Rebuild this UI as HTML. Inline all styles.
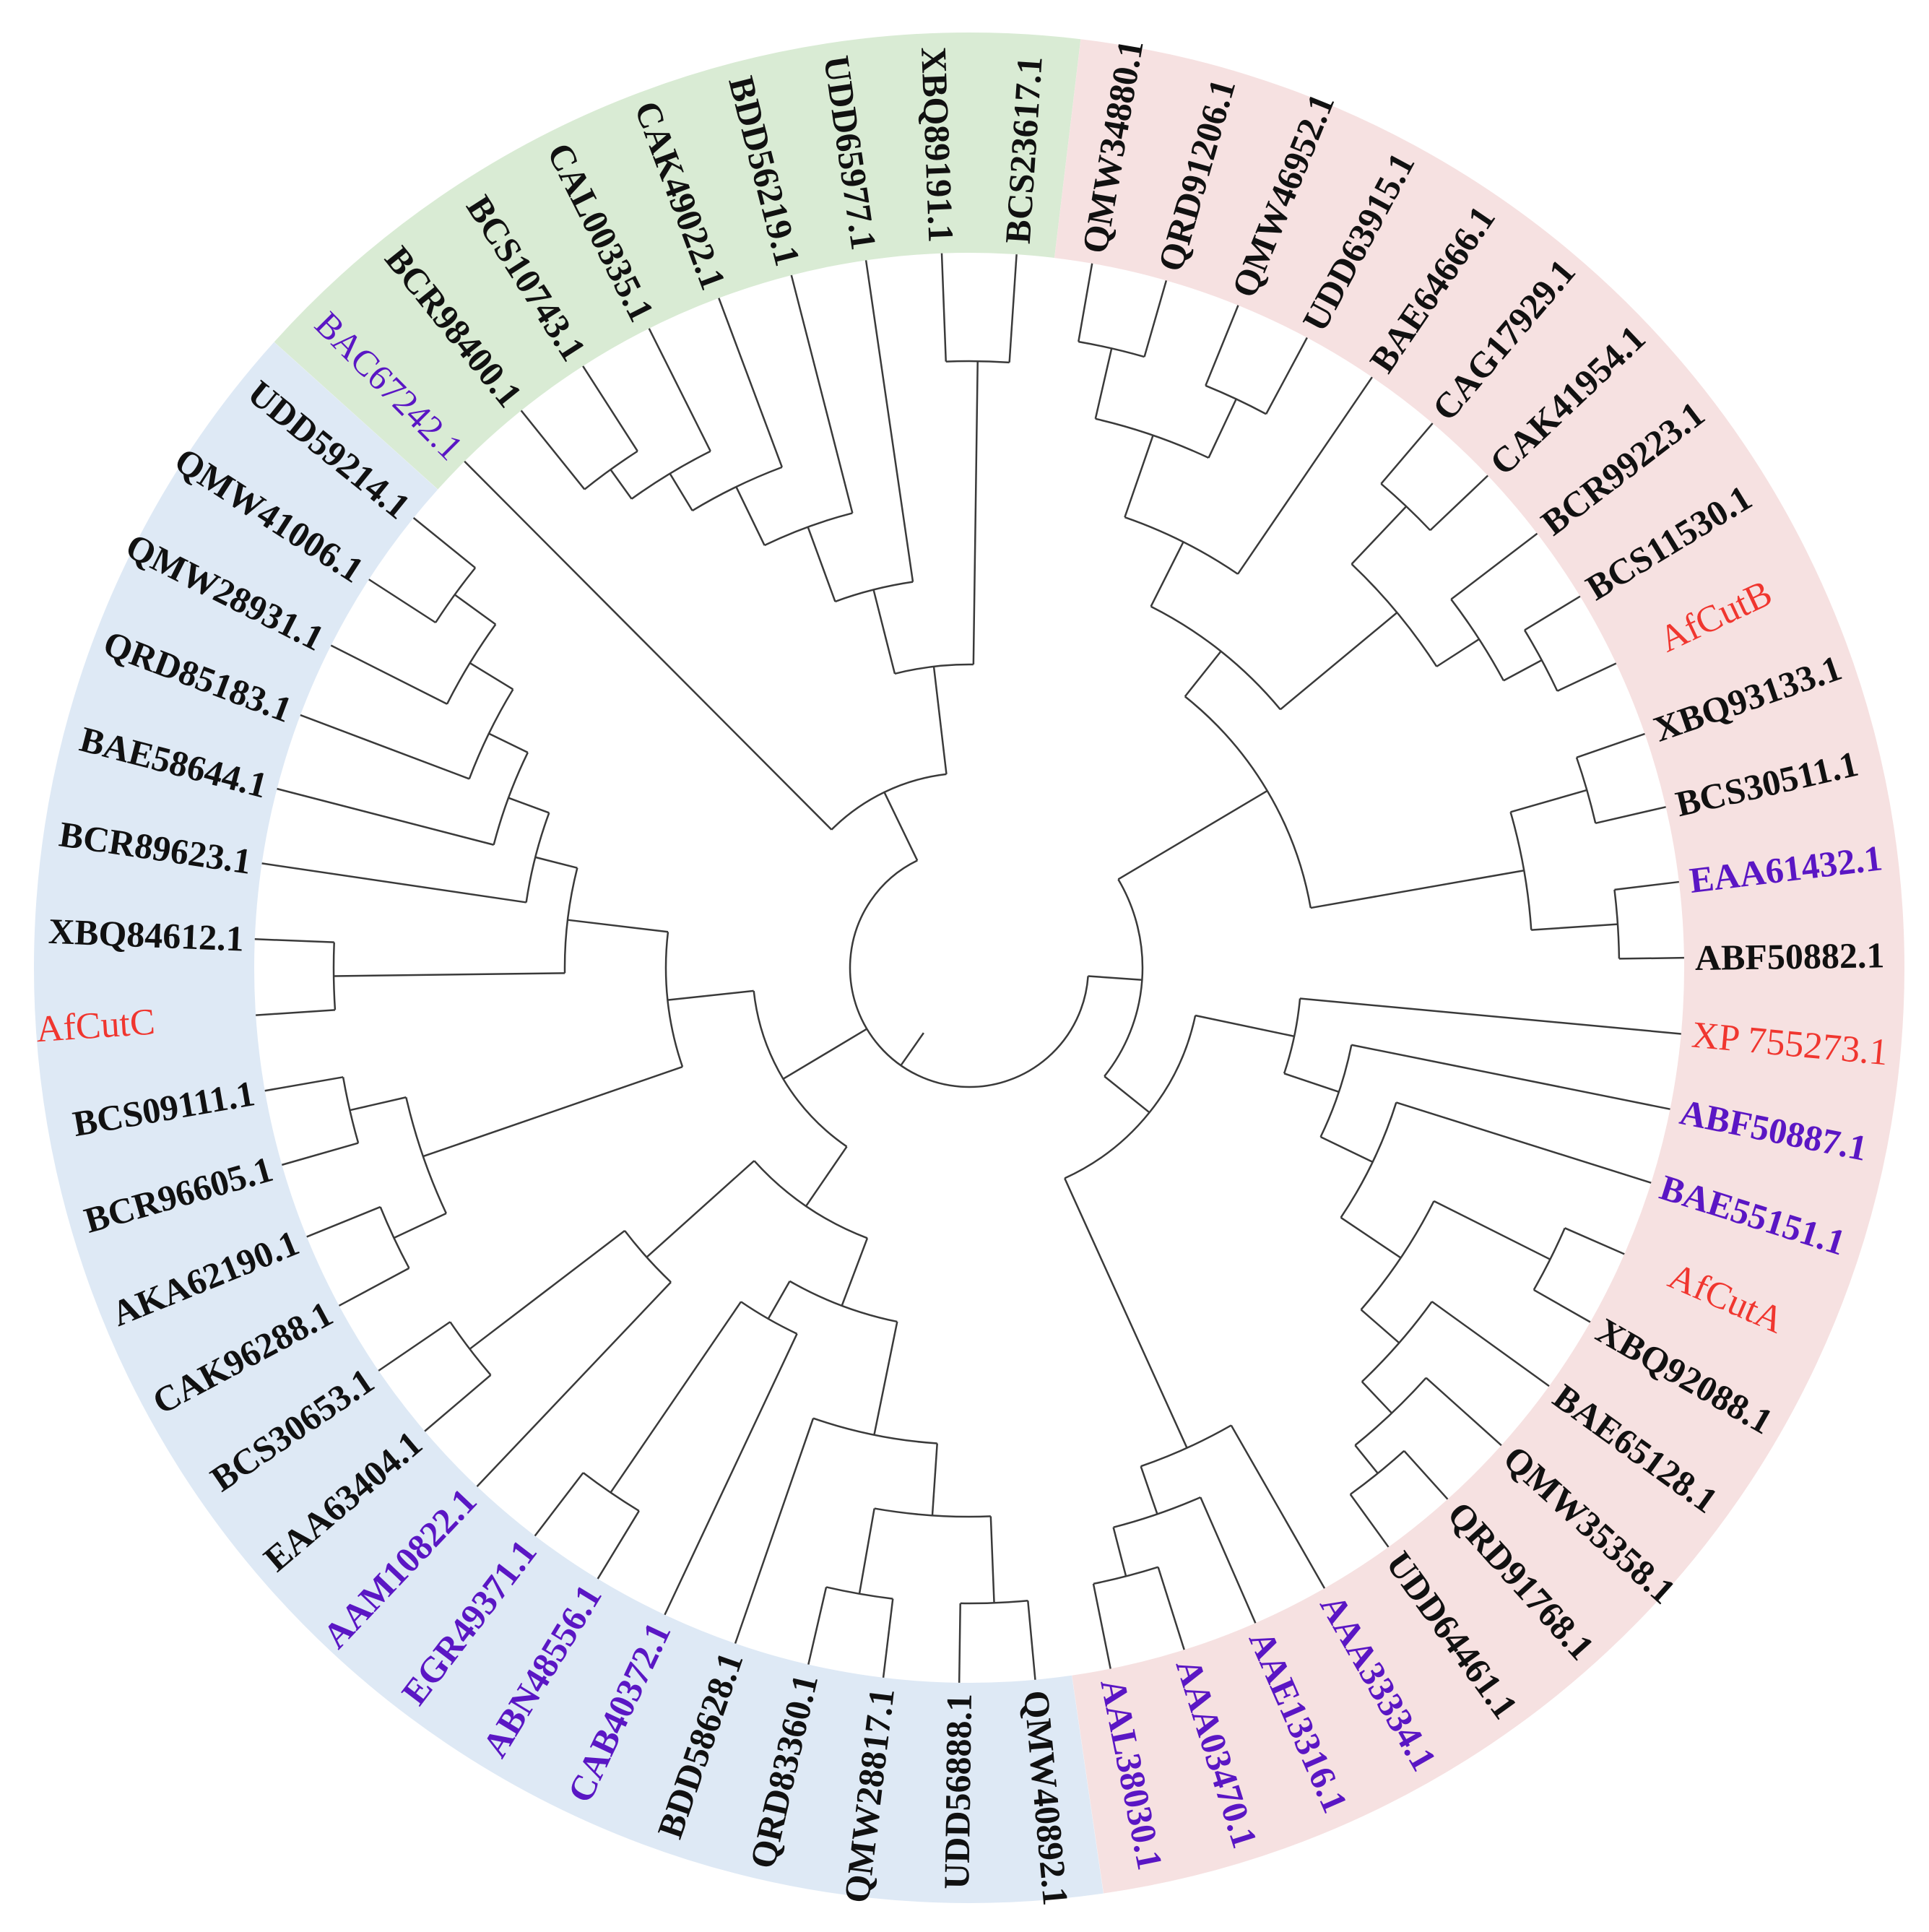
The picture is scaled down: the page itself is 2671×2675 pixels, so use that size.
<!DOCTYPE html>
<html><head><meta charset="utf-8"><style>
html,body{margin:0;padding:0;background:#fff;width:2671px;height:2675px;overflow:hidden;position:relative;}
svg{display:block;position:absolute;left:0;top:0;}
.t{font-family:"Liberation Serif",serif;font-size:50px;font-weight:bold;fill:#111;dominant-baseline:central;}
.r{fill:#f0362f;font-weight:normal;font-size:52px;}
.p{fill:#5a16c4;}
.br line,.br circle{stroke:#3a3a3a;stroke-width:2.5;fill:none;}
</style></head><body><svg width="2671" height="2675" viewBox="0 0 2671 2675" xmlns="http://www.w3.org/2000/svg">
<g transform="translate(1342 1340)">
<circle r="1142.5" fill="none" stroke="#d9ebd4" stroke-width="305" pathLength="360" stroke-dasharray="54.85 400" transform="rotate(222)"/>
<circle r="1142.5" fill="none" stroke="#f6e1e1" stroke-width="305" pathLength="360" stroke-dasharray="164.9 400" transform="rotate(-83.15)"/>
<circle r="1142.5" fill="none" stroke="#dee9f5" stroke-width="305" pathLength="360" stroke-dasharray="140.25 400" transform="rotate(81.75)"/>

<g class="br">
<line x1="850" x2="990" transform="rotate(-128.8)"/>
<line x1="850" x2="990" transform="rotate(-122.7)"/>
<line x1="800" x2="850" transform="rotate(-125.75)"/>
<line x1="800" x2="990" transform="rotate(-116.6)"/>
<line x1="740" x2="800" transform="rotate(-121.2)"/>
<line x1="740" x2="990" transform="rotate(-110.5)"/>
<line x1="650" x2="740" transform="rotate(-115.85)"/>
<line x1="650" x2="990" transform="rotate(-104.4)"/>
<line x1="540" x2="650" transform="rotate(-110.1)"/>
<line x1="540" x2="990" transform="rotate(-98.3)"/>
<line x1="420" x2="540" transform="rotate(-104.2)"/>
<line x1="840" x2="990" transform="rotate(-92.2)"/>
<line x1="840" x2="990" transform="rotate(-86.2)"/>
<line x1="420" x2="840" transform="rotate(-89.2)"/>
<line x1="270" x2="420" transform="rotate(-96.7)"/>
<line x1="270" x2="990" transform="rotate(-134.9)"/>
<line x1="165" x2="270" transform="rotate(-115.8)"/>
<circle r="850" pathLength="360" stroke-dasharray="6.1 400" transform="rotate(-128.8)"/>
<circle r="800" pathLength="360" stroke-dasharray="9.15 400" transform="rotate(-125.75)"/>
<circle r="740" pathLength="360" stroke-dasharray="10.7 400" transform="rotate(-121.2)"/>
<circle r="650" pathLength="360" stroke-dasharray="11.45 400" transform="rotate(-115.85)"/>
<circle r="540" pathLength="360" stroke-dasharray="11.8 400" transform="rotate(-110.1)"/>
<circle r="840" pathLength="360" stroke-dasharray="6 400" transform="rotate(-92.2)"/>
<circle r="420" pathLength="360" stroke-dasharray="15 400" transform="rotate(-104.2)"/>
<circle r="270" pathLength="360" stroke-dasharray="38.2 400" transform="rotate(-134.9)"/>

<line x1="880" x2="990" transform="rotate(-80.1)"/>
<line x1="880" x2="990" transform="rotate(-74)"/>
<line x1="780" x2="880" transform="rotate(-77.05)"/>
<line x1="870" x2="990" transform="rotate(-67.9)"/>
<line x1="870" x2="990" transform="rotate(-61.8)"/>
<line x1="780" x2="870" transform="rotate(-64.85)"/>
<line x1="660" x2="780" transform="rotate(-70.95)"/>
<line x1="660" x2="990" transform="rotate(-55.7)"/>
<line x1="560" x2="660" transform="rotate(-63.3)"/>
<line x1="880" x2="990" transform="rotate(-49.6)"/>
<line x1="880" x2="990" transform="rotate(-43.5)"/>
<line x1="770" x2="880" transform="rotate(-46.55)"/>
<line x1="900" x2="990" transform="rotate(-31.3)"/>
<line x1="900" x2="990" transform="rotate(-25.2)"/>
<line x1="840" x2="900" transform="rotate(-28.25)"/>
<line x1="840" x2="990" transform="rotate(-37.4)"/>
<line x1="770" x2="840" transform="rotate(-32.8)"/>
<line x1="560" x2="770" transform="rotate(-39.7)"/>
<line x1="480" x2="560" transform="rotate(-51.5)"/>
<line x1="890" x2="990" transform="rotate(-19.1)"/>
<line x1="890" x2="990" transform="rotate(-13)"/>
<line x1="780" x2="890" transform="rotate(-16.05)"/>
<line x1="900" x2="990" transform="rotate(-6.9)"/>
<line x1="900" x2="990" transform="rotate(-0.8)"/>
<line x1="780" x2="900" transform="rotate(-3.85)"/>
<line x1="480" x2="780" transform="rotate(-9.95)"/>
<line x1="240" x2="480" transform="rotate(-30.7)"/>
<circle r="880" pathLength="360" stroke-dasharray="6.1 400" transform="rotate(-80.1)"/>
<circle r="870" pathLength="360" stroke-dasharray="6.1 400" transform="rotate(-67.9)"/>
<circle r="780" pathLength="360" stroke-dasharray="12.2 400" transform="rotate(-77.05)"/>
<circle r="660" pathLength="360" stroke-dasharray="15.25 400" transform="rotate(-70.95)"/>
<circle r="880" pathLength="360" stroke-dasharray="6.1 400" transform="rotate(-49.6)"/>
<circle r="900" pathLength="360" stroke-dasharray="6.1 400" transform="rotate(-31.3)"/>
<circle r="840" pathLength="360" stroke-dasharray="9.15 400" transform="rotate(-37.4)"/>
<circle r="770" pathLength="360" stroke-dasharray="13.75 400" transform="rotate(-46.55)"/>
<circle r="560" pathLength="360" stroke-dasharray="23.6 400" transform="rotate(-63.3)"/>
<circle r="890" pathLength="360" stroke-dasharray="6.1 400" transform="rotate(-19.1)"/>
<circle r="900" pathLength="360" stroke-dasharray="6.1 400" transform="rotate(-6.9)"/>
<circle r="780" pathLength="360" stroke-dasharray="12.2 400" transform="rotate(-16.05)"/>
<circle r="480" pathLength="360" stroke-dasharray="41.55 400" transform="rotate(-51.5)"/>

<line x1="900" x2="990" transform="rotate(23.6)"/>
<line x1="900" x2="990" transform="rotate(29.7)"/>
<line x1="720" x2="900" transform="rotate(26.65)"/>
<line x1="900" x2="990" transform="rotate(48)"/>
<line x1="900" x2="990" transform="rotate(54.1)"/>
<line x1="850" x2="900" transform="rotate(51.05)"/>
<line x1="850" x2="990" transform="rotate(41.9)"/>
<line x1="790" x2="850" transform="rotate(46.5)"/>
<line x1="790" x2="990" transform="rotate(35.8)"/>
<line x1="720" x2="790" transform="rotate(41.1)"/>
<line x1="620" x2="720" transform="rotate(33.9)"/>
<line x1="620" x2="990" transform="rotate(17.5)"/>
<line x1="540" x2="620" transform="rotate(25.7)"/>
<line x1="540" x2="990" transform="rotate(11.4)"/>
<line x1="460" x2="540" transform="rotate(18.55)"/>
<line x1="460" x2="990" transform="rotate(5.3)"/>
<line x1="320" x2="460" transform="rotate(11.9)"/>
<line x1="870" x2="990" transform="rotate(78.6)"/>
<line x1="870" x2="990" transform="rotate(72.5)"/>
<line x1="800" x2="870" transform="rotate(75.55)"/>
<line x1="800" x2="990" transform="rotate(66.4)"/>
<line x1="730" x2="800" transform="rotate(71)"/>
<line x1="730" x2="990" transform="rotate(60.2)"/>
<line x1="320" x2="730" transform="rotate(65.6)"/>
<line x1="240" x2="320" transform="rotate(38.75)"/>
<line x1="165" x2="240" transform="rotate(4)"/>
<circle r="900" pathLength="360" stroke-dasharray="6.1 400" transform="rotate(23.6)"/>
<circle r="900" pathLength="360" stroke-dasharray="6.1 400" transform="rotate(48)"/>
<circle r="850" pathLength="360" stroke-dasharray="9.15 400" transform="rotate(41.9)"/>
<circle r="790" pathLength="360" stroke-dasharray="10.7 400" transform="rotate(35.8)"/>
<circle r="720" pathLength="360" stroke-dasharray="14.45 400" transform="rotate(26.65)"/>
<circle r="620" pathLength="360" stroke-dasharray="16.4 400" transform="rotate(17.5)"/>
<circle r="540" pathLength="360" stroke-dasharray="14.3 400" transform="rotate(11.4)"/>
<circle r="460" pathLength="360" stroke-dasharray="13.25 400" transform="rotate(5.3)"/>
<circle r="870" pathLength="360" stroke-dasharray="6.1 400" transform="rotate(72.5)"/>
<circle r="800" pathLength="360" stroke-dasharray="9.15 400" transform="rotate(66.4)"/>
<circle r="730" pathLength="360" stroke-dasharray="10.8 400" transform="rotate(60.2)"/>
<circle r="320" pathLength="360" stroke-dasharray="53.7 400" transform="rotate(11.9)"/>
<circle r="240" pathLength="360" stroke-dasharray="69.45 400" transform="rotate(-30.7)"/>

<line x1="880" x2="990" transform="rotate(219)"/>
<line x1="880" x2="990" transform="rotate(212.9)"/>
<line x1="810" x2="880" transform="rotate(215.95)"/>
<line x1="810" x2="990" transform="rotate(206.8)"/>
<line x1="740" x2="810" transform="rotate(211.4)"/>
<line x1="740" x2="990" transform="rotate(200.7)"/>
<line x1="680" x2="740" transform="rotate(206)"/>
<line x1="680" x2="990" transform="rotate(194.5)"/>
<line x1="620" x2="680" transform="rotate(200.25)"/>
<line x1="620" x2="990" transform="rotate(188.4)"/>
<line x1="560" x2="620" transform="rotate(194.3)"/>
<line x1="880" x2="990" transform="rotate(182.3)"/>
<line x1="880" x2="990" transform="rotate(176.2)"/>
<line x1="560" x2="880" transform="rotate(179.25)"/>
<line x1="420" x2="560" transform="rotate(186.8)"/>
<line x1="880" x2="990" transform="rotate(170.1)"/>
<line x1="880" x2="990" transform="rotate(164)"/>
<line x1="800" x2="880" transform="rotate(167.05)"/>
<line x1="880" x2="990" transform="rotate(157.9)"/>
<line x1="880" x2="990" transform="rotate(151.8)"/>
<line x1="800" x2="880" transform="rotate(154.85)"/>
<line x1="420" x2="800" transform="rotate(160.95)"/>
<line x1="300" x2="420" transform="rotate(173.9)"/>
<line x1="870" x2="990" transform="rotate(145.7)"/>
<line x1="870" x2="990" transform="rotate(139.6)"/>
<line x1="600" x2="870" transform="rotate(142.65)"/>
<line x1="600" x2="990" transform="rotate(133.5)"/>
<line x1="400" x2="600" transform="rotate(138.1)"/>
<line x1="880" x2="990" transform="rotate(127.4)"/>
<line x1="880" x2="990" transform="rotate(121.3)"/>
<line x1="560" x2="880" transform="rotate(124.35)"/>
<line x1="560" x2="990" transform="rotate(115.2)"/>
<line x1="500" x2="560" transform="rotate(119.8)"/>
<line x1="880" x2="990" transform="rotate(103)"/>
<line x1="880" x2="990" transform="rotate(96.9)"/>
<line x1="760" x2="880" transform="rotate(99.95)"/>
<line x1="880" x2="990" transform="rotate(90.8)"/>
<line x1="880" x2="990" transform="rotate(84.7)"/>
<line x1="760" x2="880" transform="rotate(87.75)"/>
<line x1="660" x2="760" transform="rotate(93.85)"/>
<line x1="660" x2="990" transform="rotate(109.1)"/>
<line x1="500" x2="660" transform="rotate(101.5)"/>
<line x1="400" x2="500" transform="rotate(110.65)"/>
<line x1="300" x2="400" transform="rotate(124.4)"/>
<line x1="165" x2="300" transform="rotate(149.15)"/>
<circle r="880" pathLength="360" stroke-dasharray="6.1 400" transform="rotate(212.9)"/>
<circle r="810" pathLength="360" stroke-dasharray="9.15 400" transform="rotate(206.8)"/>
<circle r="740" pathLength="360" stroke-dasharray="10.7 400" transform="rotate(200.7)"/>
<circle r="680" pathLength="360" stroke-dasharray="11.5 400" transform="rotate(194.5)"/>
<circle r="620" pathLength="360" stroke-dasharray="11.85 400" transform="rotate(188.4)"/>
<circle r="880" pathLength="360" stroke-dasharray="6.1 400" transform="rotate(176.2)"/>
<circle r="560" pathLength="360" stroke-dasharray="15.05 400" transform="rotate(179.25)"/>
<circle r="880" pathLength="360" stroke-dasharray="6.1 400" transform="rotate(164)"/>
<circle r="880" pathLength="360" stroke-dasharray="6.1 400" transform="rotate(151.8)"/>
<circle r="800" pathLength="360" stroke-dasharray="12.2 400" transform="rotate(154.85)"/>
<circle r="420" pathLength="360" stroke-dasharray="25.85 400" transform="rotate(160.95)"/>
<circle r="870" pathLength="360" stroke-dasharray="6.1 400" transform="rotate(139.6)"/>
<circle r="600" pathLength="360" stroke-dasharray="9.15 400" transform="rotate(133.5)"/>
<circle r="880" pathLength="360" stroke-dasharray="6.1 400" transform="rotate(121.3)"/>
<circle r="560" pathLength="360" stroke-dasharray="9.15 400" transform="rotate(115.2)"/>
<circle r="880" pathLength="360" stroke-dasharray="6.1 400" transform="rotate(96.9)"/>
<circle r="880" pathLength="360" stroke-dasharray="6.1 400" transform="rotate(84.7)"/>
<circle r="760" pathLength="360" stroke-dasharray="12.2 400" transform="rotate(87.75)"/>
<circle r="660" pathLength="360" stroke-dasharray="15.25 400" transform="rotate(93.85)"/>
<circle r="500" pathLength="360" stroke-dasharray="18.3 400" transform="rotate(101.5)"/>
<circle r="400" pathLength="360" stroke-dasharray="27.45 400" transform="rotate(110.65)"/>
<circle r="300" pathLength="360" stroke-dasharray="49.5 400" transform="rotate(124.4)"/>
<circle r="165" pathLength="360" stroke-dasharray="240.2 400" transform="rotate(4)"/>
<line x1="110" x2="165" transform="rotate(125)"/>
</g>

<text class="t" x="1005" transform="rotate(-86.2)">BCS23617.1</text>
<text class="t" x="1005" transform="rotate(-80.1)">QMW34880.1</text>
<text class="t" x="1005" transform="rotate(-74)">QRD91206.1</text>
<text class="t" x="1005" transform="rotate(-67.9)">QMW46952.1</text>
<text class="t" x="1005" transform="rotate(-61.8)">UDD63915.1</text>
<text class="t" x="1005" transform="rotate(-55.7)">BAE64666.1</text>
<text class="t" x="1005" transform="rotate(-49.6)">CAG17929.1</text>
<text class="t" x="1005" transform="rotate(-43.5)">CAK41954.1</text>
<text class="t" x="1005" transform="rotate(-37.4)">BCR99223.1</text>
<text class="t" x="1005" transform="rotate(-31.3)">BCS11530.1</text>
<text class="t r" x="1060" transform="rotate(-25.2)">AfCutB</text>
<text class="t" x="1005" transform="rotate(-19.1)">XBQ93133.1</text>
<text class="t" x="1005" transform="rotate(-13)">BCS30511.1</text>
<text class="t p" x="1005" transform="rotate(-6.9)">EAA61432.1</text>
<text class="t" x="1005" transform="rotate(-0.8)">ABF50882.1</text>
<text class="t r" x="1005" transform="rotate(5.3)">XP 755273.1</text>
<text class="t p" x="1005" transform="rotate(11.4)">ABF50887.1</text>
<text class="t p" x="1005" transform="rotate(17.5)">BAE55151.1</text>
<text class="t r" x="1060" transform="rotate(23.6)">AfCutA</text>
<text class="t" x="1005" transform="rotate(29.7)">XBQ92088.1</text>
<text class="t" x="1005" transform="rotate(35.8)">BAE65128.1</text>
<text class="t" x="1005" transform="rotate(41.9)">QMW35358.1</text>
<text class="t" x="1005" transform="rotate(48)">QRD91768.1</text>
<text class="t" x="1005" transform="rotate(54.1)">UDD64461.1</text>
<text class="t p" x="1005" transform="rotate(60.2)">AAA33334.1</text>
<text class="t p" x="1005" transform="rotate(66.4)">AAE13316.1</text>
<text class="t p" x="1005" transform="rotate(72.5)">AAA03470.1</text>
<text class="t p" x="1005" transform="rotate(78.6)">AAL38030.1</text>
<text class="t" x="1005" transform="rotate(84.7)">QMW40892.1</text>
<text class="t" x="-1005" text-anchor="end" transform="rotate(-89.2)">UDD56888.1</text>
<text class="t" x="-1005" text-anchor="end" transform="rotate(-83.1)">QMW28817.1</text>
<text class="t" x="-1005" text-anchor="end" transform="rotate(-77)">QRD83360.1</text>
<text class="t" x="-1005" text-anchor="end" transform="rotate(-70.9)">BDD58628.1</text>
<text class="t p" x="-1005" text-anchor="end" transform="rotate(-64.8)">CAB40372.1</text>
<text class="t p" x="-1005" text-anchor="end" transform="rotate(-58.7)">ABN48556.1</text>
<text class="t p" x="-1005" text-anchor="end" transform="rotate(-52.6)">EGR49371.1</text>
<text class="t p" x="-1005" text-anchor="end" transform="rotate(-46.5)">AAM10822.1</text>
<text class="t" x="-1005" text-anchor="end" transform="rotate(-40.4)">EAA63404.1</text>
<text class="t" x="-1005" text-anchor="end" transform="rotate(-34.3)">BCS30653.1</text>
<text class="t" x="-1005" text-anchor="end" transform="rotate(-28.2)">CAK96288.1</text>
<text class="t" x="-1005" text-anchor="end" transform="rotate(-22.1)">AKA62190.1</text>
<text class="t" x="-1005" text-anchor="end" transform="rotate(-16)">BCR96605.1</text>
<text class="t" x="-1005" text-anchor="end" transform="rotate(-9.9)">BCS09111.1</text>
<text class="t r" x="-1130" text-anchor="end" transform="rotate(-3.8)">AfCutC</text>
<text class="t" x="-1005" text-anchor="end" transform="rotate(2.3)">XBQ84612.1</text>
<text class="t" x="-1005" text-anchor="end" transform="rotate(8.4)">BCR89623.1</text>
<text class="t" x="-1005" text-anchor="end" transform="rotate(14.5)">BAE58644.1</text>
<text class="t" x="-1005" text-anchor="end" transform="rotate(20.7)">QRD85183.1</text>
<text class="t" x="-1005" text-anchor="end" transform="rotate(26.8)">QMW28931.1</text>
<text class="t" x="-1005" text-anchor="end" transform="rotate(32.9)">QMW41006.1</text>
<text class="t" x="-1005" text-anchor="end" transform="rotate(39)">UDD59214.1</text>
<text class="t p" x="-1005" text-anchor="end" transform="rotate(45.1)" style="font-weight:normal">BAC67242.1</text>
<text class="t" x="-1005" text-anchor="end" transform="rotate(51.2)">BCR98400.1</text>
<text class="t" x="-1005" text-anchor="end" transform="rotate(57.3)">BCS10743.1</text>
<text class="t" x="-1005" text-anchor="end" transform="rotate(63.4)">CAL00335.1</text>
<text class="t" x="-1005" text-anchor="end" transform="rotate(69.5)">CAK49022.1</text>
<text class="t" x="-1005" text-anchor="end" transform="rotate(75.6)">BDD56219.1</text>
<text class="t" x="-1005" text-anchor="end" transform="rotate(81.7)">UDD65977.1</text>
<text class="t" x="-1005" text-anchor="end" transform="rotate(87.8)">XBQ89191.1</text>
</g>
</svg></body></html>
